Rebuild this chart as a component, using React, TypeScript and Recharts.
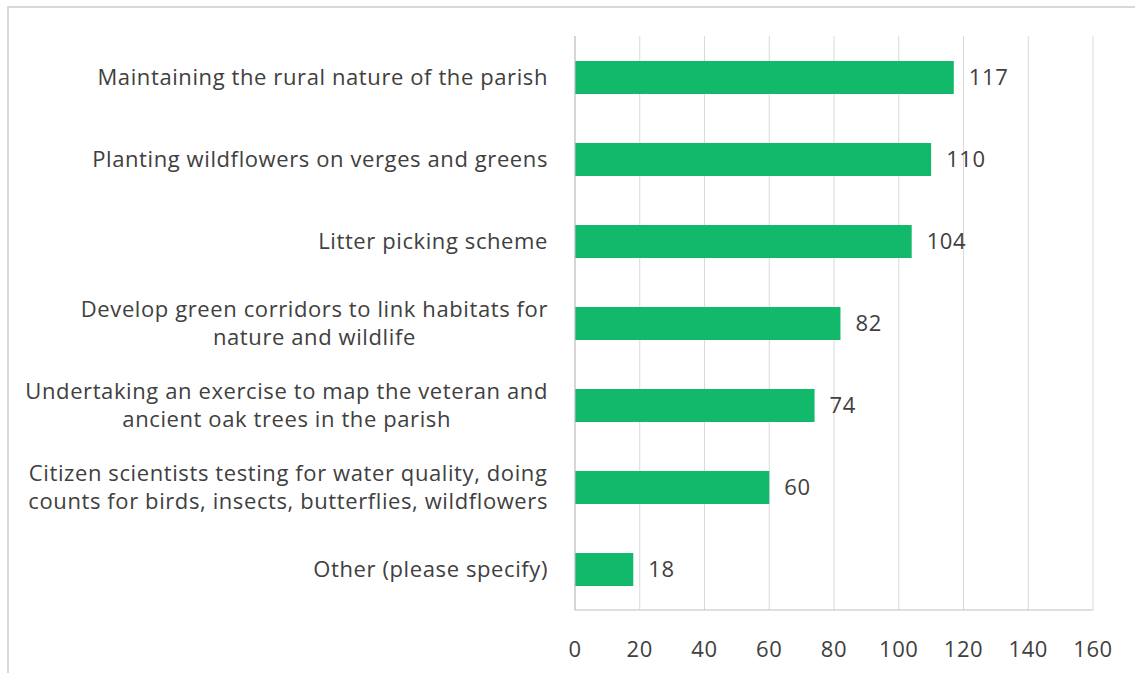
import { BarChart, Bar, XAxis, YAxis, CartesianGrid, LabelList } from 'recharts';

const categories = [
  'Maintaining the rural nature of the parish',
  'Planting wildflowers on verges and greens',
  'Litter picking scheme',
  'Develop green corridors to link habitats for\nnature and wildlife',
  'Undertaking an exercise to map the veteran and\nancient oak trees in the parish',
  'Citizen scientists testing for water quality, doing\ncounts for birds, insects, butterflies, wildflowers',
  'Other (please specify)',
];
const responses = [117, 110, 104, 82, 74, 60, 18];
const xTicks = [0, 20, 40, 60, 80, 100, 120, 140, 160];

const FONT = '22px "Open Sans"';
const SPACING = 0.6;
const TEXT = '#404040';

const chartData = categories.map((name, i) => ({ name, count: responses[i] }));

let ctx: CanvasRenderingContext2D | null = null;
function textWidth(s: string) {
  if (!ctx) ctx = document.createElement('canvas').getContext('2d');
  if (!ctx) return s.length * 11;
  ctx.font = FONT;
  return ctx.measureText(s).width + s.length * SPACING;
}

// Excel-style labels: block right aligned, lines centred inside it
function CategoryTick({ x, y, payload }: any) {
  const lines: string[] = String(payload.value).split('\n');
  const widest = Math.max(...lines.map(textWidth));
  const lineH = 28;
  const start = y - ((lines.length - 1) * lineH) / 2;
  return (
    <g>
      {lines.map((line, i) => (
        <text
          key={i}
          x={x - widest / 2}
          y={start + i * lineH}
          dy="0.35em"
          textAnchor="middle"
          fill={TEXT}
          style={{ font: FONT, letterSpacing: SPACING }}
        >
          {line}
        </text>
      ))}
    </g>
  );
}

export default function App() {
  return (
    <div style={{ position: 'absolute', left: 0, top: 0, width: 1135, height: 673, background: '#fff', overflow: 'hidden' }}>
      <div style={{ position: 'absolute', left: 7, top: 6, width: 1200, height: 700, borderTop: '2px solid #d9d9d9', borderLeft: '2px solid #d9d9d9' }} />
      <BarChart
        width={1135}
        height={673}
        data={chartData}
        layout="vertical"
        margin={{ top: 36, right: 42, left: 0, bottom: 0 }}
        style={{ position: 'absolute', left: 0, top: 0 }}
      >
        <CartesianGrid horizontal={false} stroke="#d9d9d9" />
        <XAxis
          type="number"
          domain={[0, 160]}
          ticks={xTicks}
          height={63}
          tickLine={false}
          stroke="#bfbfbf"
          tickMargin={25}
          tick={{ fill: TEXT, fontSize: 22, fontFamily: 'Open Sans', letterSpacing: SPACING }}
        />
        <YAxis
          type="category"
          dataKey="name"
          width={575}
          tickLine={false}
          stroke="#bfbfbf"
          tickMargin={21}
          tick={<CategoryTick />}
        />
        <Bar dataKey="count" fill="#12B96B" barSize={33} isAnimationActive={false}>
          <LabelList dataKey="count" position="right" offset={15} fill={TEXT} style={{ font: FONT, letterSpacing: SPACING }} />
        </Bar>
      </BarChart>
    </div>
  );
}
